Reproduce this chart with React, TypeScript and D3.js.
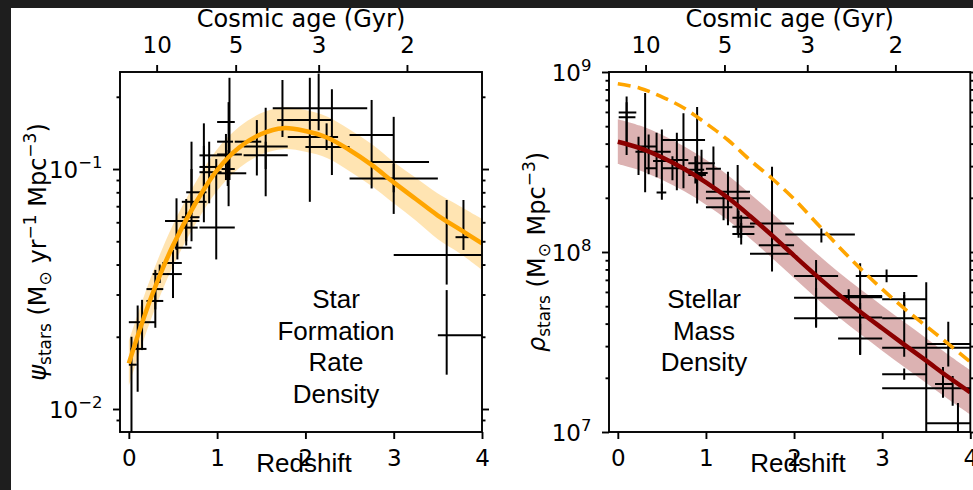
import * as d3 from 'd3';
import { useEffect, useRef } from 'react';

const chartWidth = 973;
const chartHeight = 490;

const zGrid = [0, 0.25, 0.5, 0.75, 1, 1.25, 1.5, 1.75, 2, 2.25, 2.5, 2.75, 3, 3.25, 3.5, 3.75, 4];

// star formation rate density fit (Msun / yr / Mpc^3) and its shaded band
const sfrdFit = [0.0155, 0.029, 0.048, 0.0715, 0.099, 0.123, 0.140, 0.148, 0.144, 0.135, 0.120, 0.104, 0.088, 0.075, 0.064, 0.056, 0.049];
const sfrdLow = [0.0125, 0.0236, 0.0393, 0.0586, 0.0812, 0.101, 0.115, 0.121, 0.118, 0.111, 0.098, 0.085, 0.072, 0.061, 0.051, 0.0445, 0.038];
const sfrdHigh = [0.0192, 0.0354, 0.0586, 0.0872, 0.121, 0.150, 0.171, 0.181, 0.176, 0.165, 0.146, 0.127, 0.107, 0.092, 0.079, 0.070, 0.062];

// measurements: [z, zLow, zHigh, value, valueLow, valueHigh]
const sfrdPoints = [
    [0.03, 0.0, 0.09, 0.0153, 0.007, 0.020],
    [0.10, 0.02, 0.20, 0.0178, 0.0118, 0.027],
    [0.15, 0.0, 0.30, 0.023, 0.0176, 0.0285],
    [0.30, 0.20, 0.39, 0.0282, 0.0218, 0.0335],
    [0.30, 0.20, 0.39, 0.0316, 0.026, 0.038],
    [0.35, 0.27, 0.46, 0.0365, 0.0335, 0.040],
    [0.50, 0.38, 0.60, 0.0406, 0.029, 0.046],
    [0.50, 0.43, 0.60, 0.0365, 0.031, 0.042],
    [0.54, 0.41, 0.80, 0.0607, 0.046, 0.0755],
    [0.55, 0.52, 0.71, 0.047, 0.042, 0.052],
    [0.65, 0.60, 0.80, 0.063, 0.05, 0.075],
    [0.65, 0.58, 0.78, 0.057, 0.048, 0.066],
    [0.71, 0.60, 0.88, 0.073, 0.05, 0.13],
    [0.71, 0.65, 0.88, 0.080, 0.065, 0.10],
    [0.85, 0.80, 1.10, 0.114, 0.06, 0.155],
    [0.85, 0.80, 1.03, 0.102, 0.085, 0.125],
    [0.91, 0.80, 1.05, 0.097, 0.072, 0.13],
    [0.99, 0.80, 1.20, 0.057, 0.042, 0.11],
    [1.14, 1.00, 1.20, 0.157, 0.09, 0.24],
    [1.13, 1.00, 1.18, 0.13, 0.10, 0.19],
    [1.13, 1.00, 1.33, 0.096, 0.07, 0.12],
    [1.12, 1.05, 1.20, 0.10, 0.085, 0.115],
    [1.10, 1.00, 1.28, 0.115, 0.09, 0.14],
    [1.45, 1.20, 1.50, 0.13, 0.094, 0.16],
    [1.55, 1.30, 1.80, 0.124, 0.077, 0.18],
    [1.55, 1.30, 1.80, 0.114, 0.10, 0.13],
    [1.74, 1.68, 1.86, 0.16, 0.136, 0.235],
    [2.05, 1.63, 2.70, 0.179, 0.073, 0.24],
    [2.15, 1.80, 2.30, 0.16, 0.145, 0.25],
    [2.24, 1.80, 2.37, 0.136, 0.12, 0.155],
    [2.30, 2.00, 2.50, 0.1235, 0.0944, 0.215],
    [2.75, 2.50, 3.00, 0.1386, 0.083, 0.194],
    [3.00, 2.70, 3.40, 0.107, 0.065, 0.165],
    [3.00, 2.50, 3.50, 0.0914, 0.08, 0.105],
    [3.60, 3.00, 4.00, 0.0438, 0.033, 0.0743],
    [3.60, 3.50, 4.00, 0.0203, 0.0139, 0.0313],
    [3.79, 3.70, 3.85, 0.052, 0.046, 0.0743],
];

// stellar mass density fit (Msun / Mpc^3), its band, and the integrated SFRD (dashed)
const massFit = [4.10e8, 3.78e8, 3.36e8, 2.90e8, 2.44e8, 2.00e8, 1.585e8, 1.236e8, 9.55e7, 7.41e7, 5.82e7, 4.66e7, 3.77e7, 3.06e7, 2.49e7, 2.02e7, 1.66e7];
const massLow = [3.08e8, 2.84e8, 2.52e8, 2.18e8, 1.83e8, 1.50e8, 1.19e8, 9.27e7, 7.16e7, 5.56e7, 4.37e7, 3.5e7, 2.83e7, 2.3e7, 1.87e7, 1.52e7, 1.25e7];
const massHigh = [5.47e8, 5.04e8, 4.48e8, 3.87e8, 3.25e8, 2.67e8, 2.11e8, 1.65e8, 1.27e8, 9.88e7, 7.76e7, 6.22e7, 5.03e7, 4.08e7, 3.32e7, 2.69e7, 2.21e7];
const massFromSfrd = [8.61e8, 8.13e8, 7.28e8, 6.31e8, 5.19e8, 4.19e8, 3.24e8, 2.56e8, 1.97e8, 1.46e8, 1.08e8, 8.11e7, 6.22e7, 4.86e7, 3.87e7, 3.09e7, 2.45e7];

const massPoints = [
    [0.10, 0.01, 0.21, 5.95e8, 3.46e8, 7.3e8],
    [0.10, 0.01, 0.20, 5.6e8, 4.0e8, 6.8e8],
    [0.31, 0.20, 0.44, 3.85e8, 2.15e8, 7.64e8],
    [0.235, 0.20, 0.30, 3.6e8, 2.68e8, 4.37e8],
    [0.35, 0.31, 0.44, 2.92e8, 2.7e8, 4.5e8],
    [0.44, 0.33, 0.60, 3.6e8, 2.6e8, 4.6e8],
    [0.50, 0.44, 0.55, 2.14e8, 1.95e8, 2.4e8],
    [0.50, 0.40, 0.60, 3.2e8, 2.2e8, 4.8e8],
    [0.67, 0.59, 0.80, 3.24e8, 2.2e8, 4.6e8],
    [0.62, 0.50, 0.78, 2.92e8, 2.5e8, 3.4e8],
    [0.745, 0.50, 0.99, 4.19e8, 2.26e8, 5.9e8],
    [0.90, 0.80, 1.10, 3.11e8, 1.86e8, 6.4e8],
    [0.88, 0.78, 0.98, 2.86e8, 2.4e8, 3.4e8],
    [0.90, 0.80, 1.00, 2.68e8, 2.2e8, 3.2e8],
    [1.085, 1.00, 1.17, 2.9e8, 2.21e8, 3.85e8],
    [0.95, 0.88, 1.02, 2.75e8, 2.51e8, 3.7e8],
    [1.25, 1.00, 1.50, 2.16e8, 1.41e8, 2.79e8],
    [1.36, 1.00, 1.50, 1.99e8, 1.27e8, 3.04e8],
    [1.20, 1.00, 1.30, 1.77e8, 1.5e8, 2.1e8],
    [1.37, 1.30, 1.50, 1.55e8, 1.2e8, 1.7e8],
    [1.40, 1.30, 1.55, 1.38e8, 1.2e8, 1.6e8],
    [1.40, 1.30, 1.55, 1.26e8, 1.1e8, 1.45e8],
    [1.75, 1.50, 2.00, 1.44e8, 7.8e7, 2.98e8],
    [1.75, 1.60, 2.00, 1.09e8, 9.0e7, 1.3e8],
    [1.75, 1.50, 2.00, 9.77e7, 8.5e7, 1.12e8],
    [2.31, 1.90, 2.69, 1.25e8, 1.13e8, 1.35e8],
    [2.25, 2.00, 2.50, 7.36e7, 3.85e7, 9.04e7],
    [2.25, 2.00, 2.60, 5.57e7, 4.8e7, 6.3e7],
    [2.25, 2.00, 2.50, 4.28e7, 3.8e7, 4.8e7],
    [2.75, 2.50, 3.00, 5.6e7, 2.68e7, 8.65e7],
    [2.75, 2.50, 3.00, 4.33e7, 3.7e7, 5.2e7],
    [2.75, 2.50, 3.00, 3.31e7, 2.7e7, 4.0e7],
    [2.62, 2.55, 3.00, 5.7e7, 5.2e7, 6.2e7],
    [3.05, 2.70, 3.40, 7.36e7, 6.8e7, 8.0e7],
    [3.25, 3.00, 3.50, 4.28e7, 2.62e7, 5.77e7],
    [3.25, 3.00, 3.50, 5.46e7, 5.0e7, 6.0e7],
    [3.25, 3.00, 3.50, 2.09e7, 1.95e7, 2.25e7],
    [3.50, 3.00, 4.00, 2.94e7, 1.0e7, 6.8e7],
    [3.75, 3.50, 4.00, 3.08e7, 2.31e7, 4.1e7],
    [3.69, 3.60, 3.80, 1.85e7, 1.55e7, 2.3e7],
    [3.80, 3.00, 4.00, 1.75e7, 1.4e7, 2.05e7],
    [3.86, 3.50, 4.00, 1.12e7, 0.95e7, 1.45e7],
];

// axis ticks
const redshiftTicks = [0, 1, 2, 3, 4];
const ageTicks = ['10', '5', '3', '2'];
const ageTickRedshift = [0.315, 1.21, 2.15, 3.15];
const sfrdMajorTicks = [0.01, 0.1];
const sfrdTickExponents = ['−2', '−1'];
const sfrdMinorTicks = [0.009, 0.02, 0.03, 0.04, 0.05, 0.06, 0.07, 0.08, 0.09, 0.2];
const massMajorTicks = [1e7, 1e8, 1e9];
const massTickExponents = ['7', '8', '9'];
const massMinorTicks = [2e7, 3e7, 4e7, 5e7, 6e7, 7e7, 8e7, 9e7, 2e8, 3e8, 4e8, 5e8, 6e8, 7e8, 8e8, 9e8];

// y labels as pieces: [text, kind]
const sfrdLabel = [['ψ', 'it'], ['stars', 'sub'], [' (M', 'n'], ['⊙', 'sub'], [' yr', 'n'], ['−1', 'sup'], [' Mpc', 'n'], ['−3', 'sup'], [')', 'n']];
const massLabel = [['ρ', 'it'], ['stars', 'sub'], [' (M', 'n'], ['⊙', 'sub'], [' Mpc', 'n'], ['−3', 'sup'], [')', 'n']];

const mathFont = 'DejaVu Sans';
const plainFont = 'Liberation Sans, Arial, sans-serif';

const panels = [
    {
        id: 'sfrd', left: 120, right: 482, top: 72, bottom: 432,
        yDomain: [0.00802, 0.2537],
        fit: sfrdFit, low: sfrdLow, high: sfrdHigh, dashed: null,
        fitColor: 'orange', points: sfrdPoints,
        majors: sfrdMajorTicks, exps: sfrdTickExponents, minors: sfrdMinorTicks,
        label: sfrdLabel, labelX: 46,
        note: ['Star', 'Formation', 'Rate', 'Density'], noteX: 336,
        redshiftX: 304,
    },
    {
        id: 'mass', left: 609, right: 970.3, top: 72, bottom: 432,
        yDomain: [1e7, 1e9],
        fit: massFit, low: massLow, high: massHigh, dashed: massFromSfrd,
        fitColor: '#8b0000', points: massPoints,
        majors: massMajorTicks, exps: massTickExponents, minors: massMinorTicks,
        label: massLabel, labelX: 545,
        note: ['Stellar', 'Mass', 'Density'], noteX: 704,
        redshiftX: 798,
    },
];

function styleAxis(g, withText) {
    g.select('.domain').remove();
    g.selectAll('.tick line').attr('stroke', 'black').attr('stroke-width', 1.9);
    g.attr('font-family', mathFont).attr('font-size', 23);
    g.selectAll('.tick text').attr('fill', 'black');
    if (!withText) g.selectAll('.tick text').remove();
}

function drawPanel(svg, p) {
    const x = d3.scaleLinear().domain([-0.1, 4]).range([p.left, p.right]);
    const y = d3.scaleLog().domain(p.yDomain).range([p.bottom, p.top]);

    svg.append('clipPath').attr('id', `clip-${p.id}`)
        .append('rect')
        .attr('x', p.left).attr('y', p.top)
        .attr('width', p.right - p.left).attr('height', p.bottom - p.top);

    const plot = svg.append('g').attr('clip-path', `url(#clip-${p.id})`);

    // shaded band around the fit
    const band = d3.area()
        .x((d, i) => x(zGrid[i]))
        .y0((d, i) => y(p.low[i]))
        .y1((d, i) => y(p.high[i]))
        .curve(d3.curveCatmullRom);
    plot.append('path').datum(p.fit)
        .attr('d', band)
        .attr('fill', p.fitColor).attr('fill-opacity', 0.3);

    // error bars
    const bars = plot.append('g').attr('stroke', 'black').attr('stroke-width', 2)
        .selectAll('g').data(p.points).join('g');
    bars.append('line')
        .attr('x1', d => x(d[1])).attr('x2', d => x(d[2]))
        .attr('y1', d => y(d[3])).attr('y2', d => y(d[3]));
    bars.append('line')
        .attr('x1', d => x(d[0])).attr('x2', d => x(d[0]))
        .attr('y1', d => y(d[4])).attr('y2', d => y(d[5]));

    const line = d3.line()
        .x((d, i) => x(zGrid[i]))
        .y(d => y(d))
        .curve(d3.curveCatmullRom);
    plot.append('path').datum(p.fit)
        .attr('d', line)
        .attr('fill', 'none').attr('stroke', p.fitColor).attr('stroke-width', 4.5);

    if (p.dashed) {
        plot.append('path').datum(p.dashed)
            .attr('d', line)
            .attr('fill', 'none').attr('stroke', 'orange')
            .attr('stroke-width', 3.6).attr('stroke-dasharray', '13 7');
    }

    // frame
    svg.append('rect')
        .attr('x', p.left).attr('y', p.top)
        .attr('width', p.right - p.left).attr('height', p.bottom - p.top)
        .attr('fill', 'none').attr('stroke', 'black').attr('stroke-width', 1.9);

    // redshift axis (bottom)
    svg.append('g').attr('transform', `translate(0,${p.bottom})`)
        .call(d3.axisBottom(x).tickValues(redshiftTicks).tickSize(7).tickPadding(11).tickFormat(d3.format('d')))
        .call(g => styleAxis(g, true));

    // cosmic age axis (top)
    svg.append('g').attr('transform', `translate(0,${p.top})`)
        .call(d3.axisTop(x).tickValues(ageTickRedshift).tickSize(7).tickPadding(12).tickFormat((d, i) => ageTicks[i]))
        .call(g => styleAxis(g, true));

    svg.append('text')
        .attr('x', (p.left + p.right) / 2).attr('y', 27)
        .attr('text-anchor', 'middle')
        .attr('font-family', mathFont).attr('font-size', 24)
        .text('Cosmic age (Gyr)');

    // log y axes, mirrored on both sides
    [[d3.axisLeft, p.left], [d3.axisRight, p.right]].forEach(([axis, pos]) => {
        svg.append('g').attr('transform', `translate(${pos},0)`)
            .call(axis(y).tickValues(p.majors).tickSize(7).tickFormat(() => ''))
            .call(g => styleAxis(g, false));
        svg.append('g').attr('transform', `translate(${pos},0)`)
            .call(axis(y).tickValues(p.minors).tickSize(3.5).tickFormat(() => ''))
            .call(g => styleAxis(g, false));
    });

    const tickLabels = svg.append('g')
        .attr('font-family', mathFont).attr('text-anchor', 'end')
        .selectAll('text').data(p.majors).join('text')
        .attr('x', p.left - 17.5)
        .attr('y', d => y(d) + 8.5);
    tickLabels.append('tspan').attr('font-size', 23).text('10');
    tickLabels.append('tspan').attr('font-size', 16.5).attr('dy', -9.5)
        .text((d, i) => p.exps[i]);

    // y label
    const label = svg.append('text')
        .attr('transform', `translate(${p.labelX},${(p.top + p.bottom) / 2}) rotate(-90)`)
        .attr('text-anchor', 'middle')
        .attr('font-family', mathFont).attr('font-size', 24);
    let shift = 0;
    p.label.forEach(([txt, kind]) => {
        const target = kind === 'sub' ? 5 : kind === 'sup' ? -10 : 0;
        const span = label.append('tspan').attr('dy', target - shift).text(txt);
        if (kind === 'sub' || kind === 'sup') span.attr('font-size', 17);
        if (kind === 'it') span.attr('font-style', 'italic');
        shift = target;
    });

    svg.append('text')
        .attr('x', p.redshiftX).attr('y', 472)
        .attr('text-anchor', 'middle')
        .attr('font-family', plainFont).attr('font-size', 26)
        .text('Redshift');

    svg.append('g')
        .attr('font-family', plainFont).attr('font-size', 26).attr('text-anchor', 'middle')
        .selectAll('text').data(p.note).join('text')
        .attr('x', p.noteX)
        .attr('y', (d, i) => 308 + i * 31.7)
        .text(d => d);
}

function App() {
    const svgRef = useRef(null);

    useEffect(() => {
        const svg = d3.select(svgRef.current);
        svg.selectAll('*').remove();

        svg.append('rect').attr('width', chartWidth).attr('height', chartHeight).attr('fill', 'white');
        // dark screenshot edge, top and left
        svg.append('rect').attr('width', chartWidth).attr('height', 8).attr('fill', '#1e1e1e');
        svg.append('rect').attr('width', 11).attr('height', chartHeight).attr('fill', '#1e1e1e');

        panels.forEach(p => drawPanel(svg, p));
    }, []);

    return (
        <svg
            ref={svgRef}
            width={chartWidth}
            height={chartHeight}
            style={{ position: 'absolute', left: 0, top: 0, display: 'block' }}
        />
    );
}

export default App;
